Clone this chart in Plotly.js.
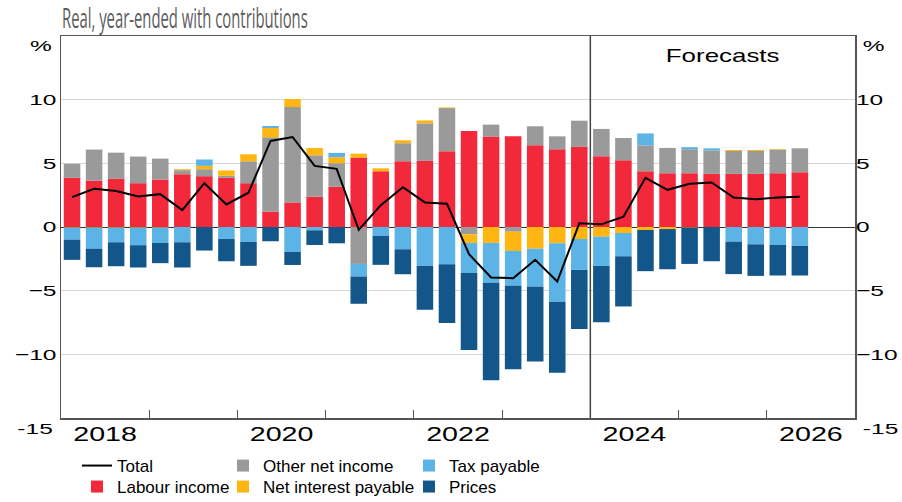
<!DOCTYPE html>
<html><head><meta charset="utf-8">
<script src="https://cdn.plot.ly/plotly-3.0.1.min.js"></script>
<style>
body{margin:0;background:#fff}
#chart{width:902px;height:502px}
#chart g.x2tick{transform-box:fill-box;transform-origin:50% 50%;transform:scaleX(1.47)}
#chart g.ytick{transform-box:fill-box;transform-origin:100% 50%;transform:scaleX(1.58)}
#chart g.y2tick{transform-box:fill-box;transform-origin:0% 50%;transform:scaleX(1.58)}
#chart g.annotation[data-index="0"]{transform-box:fill-box;transform-origin:50% 50%;transform:scaleX(1.4)}
#chart g.annotation[data-index="1"],#chart g.annotation[data-index="3"]{transform-box:fill-box;transform-origin:100% 50%;transform:scaleX(1.58)}
#chart g.annotation[data-index="2"],#chart g.annotation[data-index="4"]{transform-box:fill-box;transform-origin:0% 50%;transform:scaleX(1.58)}
</style></head>
<body><div id="chart"></div>
<script>
// Quarterly observations 2018-Q1 .. 2026-Q2 (forecasts from 2024-Q1)
const quarters = [];
for (let yr = 2018; yr <= 2026; yr++) for (let q = 1; q <= 4; q++) if (quarters.length < 34) quarters.push(yr + '-Q' + q);

const labourIncome = [3.86,3.65,3.78,3.44,3.73,4.15,3.99,3.86,3.44,1.20,1.93,2.37,3.16,5.45,4.38,5.17,5.19,5.95,7.54,7.10,7.12,6.42,6.10,6.29,5.56,5.24,4.38,4.23,4.23,4.17,4.17,4.17,4.23,4.30];
const otherNetIncome = [1.10,2.43,2.06,2.09,1.64,0.31,0.55,0.16,1.72,5.84,7.49,3.26,1.85,-2.90,0,1.41,2.95,3.39,-0.57,0.94,-0.37,1.49,1.02,2.06,2.14,1.75,2.03,1.98,1.88,1.85,1.80,1.80,1.85,1.88];
const netInterestPayable = [-0.05,-0.05,-0.05,-0.05,-0.05,0.08,0.26,0.42,0.55,0.73,0.63,0.57,0.47,0.31,0.23,0.23,0.23,0.05,-0.68,-1.25,-1.51,-1.70,-1.28,-0.94,-0.76,-0.47,-0.23,-0.16,-0.05,0,0.08,0.08,0.05,0];
const taxPayable = [-0.94,-1.65,-1.15,-1.38,-1.20,-1.20,0.50,-0.94,-1.17,0.16,-1.96,-0.26,0.34,-0.99,-0.70,-1.75,-3.05,-2.92,-2.37,-3.13,-2.74,-3.00,-4.59,-2.43,-2.30,-1.83,0.94,0,0.16,0.16,-1.15,-1.36,-1.41,-1.49];
const prices = [-1.59,-1.46,-1.88,-1.75,-1.59,-1.98,-1.85,-1.75,-1.88,-1.12,-1.02,-1.15,-1.28,-2.14,-2.27,-1.96,-3.45,-4.62,-6.03,-7.65,-6.55,-5.87,-5.58,-4.64,-4.43,-3.94,-3.24,-3.16,-2.85,-2.69,-2.55,-2.48,-2.40,-2.32];
const total = [2.35,3.00,2.82,2.40,2.58,1.33,3.44,1.77,2.69,6.76,7.07,4.80,4.57,-0.23,1.72,3.13,1.93,1.82,-2.14,-3.97,-4.02,-2.58,-4.28,0.29,0.21,0.81,3.86,2.92,3.39,3.50,2.32,2.17,2.32,2.37];

const yearLabels = ['2018','2020','2022','2024','2026'];
const yTicks = [-10,-5,0,5,10];
const forecastStart = 2024;

const xq = quarters.map(s => { const p = s.split('-Q'); return +p[0] + (+p[1] - 0.5) / 4; });
const labelPos = yearLabels.map(y => +y + 0.5);
const yearTicks = []; for (let y = 2019; y <= 2026; y++) yearTicks.push(y);

const col = {labour:'#F2293A', other:'#9A9A9A', interest:'#FFB612', tax:'#5BB4E5', prices:'#13578A'};
const bar = (name, y, color, legend) => ({type:'bar', name, x:xq, y, marker:{color, line:{width:0}}, legend, hoverinfo:'y+name'});

const traces = [
  bar('Labour income', labourIncome, col.labour, 'legend2'),
  bar('Other net income', otherNetIncome, col.other, 'legend3'),
  bar('Net interest payable', netInterestPayable, col.interest, 'legend4'),
  bar('Tax payable', taxPayable, col.tax, 'legend5'),
  bar('Prices', prices, col.prices, 'legend6'),
  {type:'scatter', mode:'lines', name:'Total', x:xq, y:total, xaxis:'x2', yaxis:'y2', line:{color:'#000', width:2}, legend:'legend'}
];

const AR = 'Liberation Sans, Arial, sans-serif';
const tickFont = {family:AR, size:15.5, color:'#000'};
const legFont = {family:AR, size:17, color:'#000'};
const leg = (x, yc) => ({orientation:'v', xref:'container', yref:'container', xanchor:'left', yanchor:'middle', x:x/902, y:1-yc/502, font:legFont, bgcolor:'rgba(0,0,0,0)', traceorder:'normal'});
const row1 = 466, row2 = 487;

const layout = {
  width:902, height:502,
  margin:{l:61, r:47, t:36, b:84, autoexpand:false},
  paper_bgcolor:'#fff', plot_bgcolor:'#fff',
  barmode:'relative', bargap:0.25,
  showlegend:true,
  title:{text:'Real, year-ended with contributions', xref:'container', yref:'container', x:62/902, xanchor:'left', y:1-19/502, yanchor:'middle',
         font:{family:'Open Sans, sans-serif', size:27, color:'#5c5c5c'}},
  xaxis:{range:[2018, 2027], tickmode:'array', tickvals:yearTicks, ticks:'inside', ticklen:8, tickcolor:'#555', tickwidth:1.2, showticklabels:false,
         showgrid:false, zeroline:false, showline:true, mirror:true, linecolor:'#555', linewidth:1.5},
  xaxis2:{range:[2018, 2027], overlaying:'x', side:'bottom', anchor:'y', tickmode:'array', tickvals:labelPos, ticktext:yearLabels, ticks:'',
          showgrid:false, zeroline:false, showline:false, tickfont:{family:AR, size:19.5, color:'#000'}, ticklabelstandoff:3},
  yaxis:{range:[-15, 15], tickmode:'array', tickvals:yTicks, ticks:'', showgrid:true, gridcolor:'#d6d6d6', gridwidth:1,
         zeroline:true, zerolinecolor:'#333', zerolinewidth:1, showline:true, mirror:true, linecolor:'#555', linewidth:1.5, tickfont:tickFont},
  yaxis2:{range:[-15, 15], overlaying:'y', side:'right', anchor:'x', tickmode:'array', tickvals:yTicks, ticks:'', showgrid:false, zeroline:false, showline:false, tickfont:tickFont},
  legend:leg(77, row1),
  legend2:leg(77, row2),
  legend3:leg(223, row1),
  legend4:leg(223, row2),
  legend5:leg(409, row1),
  legend6:leg(409, row2),
  shapes:[{type:'line', xref:'x', yref:'paper', x0:forecastStart, x1:forecastStart, y0:0, y1:1, line:{color:'#444', width:1.5}}],
  annotations:[
    {text:'Forecasts', xref:'x', yref:'paper', x:2025.5, xanchor:'center', y:1-20/382, yanchor:'middle', showarrow:false, font:{family:AR, size:18.5, color:'#000'}},
    {text:'%', xref:'paper', yref:'paper', x:-6/794, xanchor:'right', y:1-9/382, yanchor:'middle', showarrow:false, font:tickFont},
    {text:'%', xref:'paper', yref:'paper', x:1+5/794, xanchor:'left', y:1-9/382, yanchor:'middle', showarrow:false, font:tickFont},
    {text:'-15', xref:'paper', yref:'paper', x:-6/794, xanchor:'right', y:-10/382, yanchor:'middle', showarrow:false, font:tickFont},
    {text:'-15', xref:'paper', yref:'paper', x:1+5/794, xanchor:'left', y:-10/382, yanchor:'middle', showarrow:false, font:tickFont}
  ]
};

Plotly.newPlot('chart', traces, layout, {displayModeBar:false, staticPlot:true}).then(gd => {
  const g = gd.querySelector('.g-gtitle');
  const t = gd.querySelector('.gtitle');
  if (g && t) {
    const w = t.getBBox().width;
    g.style.transformBox = 'fill-box';
    g.style.transformOrigin = '0% 50%';
    g.style.transform = 'scaleX(' + (246 / w) + ')';
  }
});
</script>
</body></html>
